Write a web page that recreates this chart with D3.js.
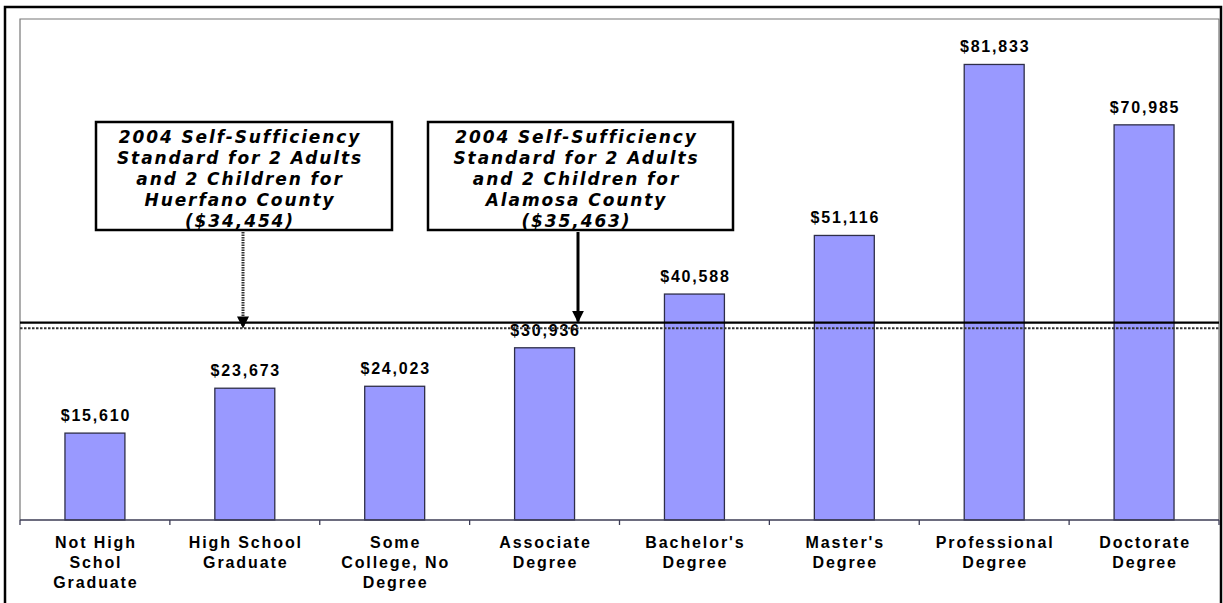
<!DOCTYPE html>
<html>
<head>
<meta charset="utf-8">
<script src="https://cdn.jsdelivr.net/npm/d3@7"></script>
<style>
  body { margin: 0; background: #fff; }
  svg { display: block; }
</style>
</head>
<body>
<div id="chart"></div>
<script>
// data
var categories = [
    'Not High\nSchol\nGraduate',
    'High School\nGraduate',
    'Some\nCollege, No\nDegree',
    'Associate\nDegree',
    "Bachelor's\nDegree",
    "Master's\nDegree",
    'Professional\nDegree',
    'Doctorate\nDegree'
];
var earnings = [15610, 23673, 24023, 30936, 40588, 51116, 81833, 70985];

var standardCounties = ['Huerfano', 'Alamosa'];
var standardValues = [34454, 35463];
var yDomain = [0, 90000];

(function() {
    'use strict';

    var width = 1223, height = 603;
    var left = 20, right = 1219, top = 19, bottom = 520;
    var money = d3.format('$,');

    var svg = d3.select('#chart').append('svg')
        .attr('width', width)
        .attr('height', height);

    var x = d3.scaleBand().domain(categories).range([left, right]).padding(0);
    var y = d3.scaleLinear().domain(yDomain).range([bottom, top]);

    // outer frame
    svg.append('rect')
        .attr('x', 5).attr('y', 7)
        .attr('width', 1216).attr('height', 620)
        .attr('fill', 'none')
        .attr('stroke', '#000')
        .attr('stroke-width', 2.5);

    // plot area border
    svg.append('path')
        .attr('d', 'M' + left + ',' + bottom + 'V' + top + 'H' + right + 'V' + bottom)
        .attr('fill', 'none')
        .attr('stroke', '#777')
        .attr('stroke-width', 1.2);

    // bars
    var barW = x.bandwidth() * 0.4;
    svg.selectAll('rect.bar')
        .data(earnings)
        .enter().append('rect')
        .attr('class', 'bar')
        .attr('x', function(d, i) { return x(categories[i]) + (x.bandwidth() - barW) / 2; })
        .attr('y', function(d) { return y(d); })
        .attr('width', barW)
        .attr('height', function(d) { return y(0) - y(d); })
        .attr('fill', '#9999ff')
        .attr('stroke', '#2e2e48')
        .attr('stroke-width', 1.3);

    // value labels
    svg.selectAll('text.val')
        .data(earnings)
        .enter().append('text')
        .attr('class', 'val')
        .attr('x', function(d, i) { return x(categories[i]) + x.bandwidth() / 2 + 1; })
        .attr('y', function(d) { return y(d) - 12; })
        .attr('text-anchor', 'middle')
        .style('font', 'bold 16px "Liberation Sans", Arial, sans-serif')
        .style('letter-spacing', '1.8px')
        .text(function(d) { return money(d); });

    // standard lines: solid for Alamosa, dotted for Huerfano
    svg.selectAll('line.std')
        .data(standardValues)
        .enter().append('line')
        .attr('class', 'std')
        .attr('x1', left).attr('x2', right)
        .attr('y1', function(d) { return y(d); })
        .attr('y2', function(d) { return y(d); })
        .attr('stroke', function(d, i) { return i === 0 ? '#333' : '#000'; })
        .attr('stroke-width', function(d, i) { return i === 0 ? 2 : 2.2; })
        .attr('stroke-dasharray', function(d, i) { return i === 0 ? '2.5,1.5' : null; });

    // x axis
    var axisG = svg.append('g')
        .attr('transform', 'translate(0,' + bottom + ')');
    axisG.append('line')
        .attr('x1', left).attr('x2', right)
        .attr('stroke', '#3c3c55').attr('stroke-width', 1.5);
    var edges = categories.map(function(c) { return x(c); }).concat([right]);
    axisG.selectAll('line.tick')
        .data(edges)
        .enter().append('line')
        .attr('class', 'tick')
        .attr('x1', function(d) { return d; })
        .attr('x2', function(d) { return d; })
        .attr('y1', 0).attr('y2', 5)
        .attr('stroke', '#3c3c55').attr('stroke-width', 1.3);

    axisG.selectAll('text.cat')
        .data(categories)
        .enter().append('text')
        .attr('class', 'cat')
        .attr('text-anchor', 'middle')
        .style('font', 'bold 16px "Liberation Sans", Arial, sans-serif')
        .style('letter-spacing', '1.9px')
        .each(function(d) {
            var t = d3.select(this);
            d.split('\n').forEach(function(line, k) {
                t.append('tspan')
                    .attr('x', x(d) + x.bandwidth() / 2 + 1)
                    .attr('y', 28 + k * 20)
                    .text(line);
            });
        });

    // annotation boxes with arrows
    var defs = svg.append('defs');
    defs.append('marker')
        .attr('id', 'head')
        .attr('viewBox', '0 0 10 10')
        .attr('refX', 9).attr('refY', 5)
        .attr('markerWidth', 4).attr('markerHeight', 4)
        .attr('markerUnits', 'strokeWidth')
        .attr('orient', 'auto')
        .append('path')
        .attr('d', 'M0,0L10,5L0,10z')
        .attr('fill', '#000');

    var boxes = [
        { x: 96, w: 296, arrowX: 243 },
        { x: 428, w: 305, arrowX: 578 }
    ];
    var boxTop = 122, boxBottom = 230;

    boxes.forEach(function(b, i) {
        var g = svg.append('g');
        defs.append('clipPath').attr('id', 'clip' + i)
            .append('rect')
            .attr('x', b.x).attr('y', boxTop)
            .attr('width', b.w).attr('height', boxBottom - boxTop);

        g.append('rect')
            .attr('x', b.x).attr('y', boxTop)
            .attr('width', b.w).attr('height', boxBottom - boxTop)
            .attr('fill', '#fff');

        var lines = [
            '2004 Self-Sufficiency',
            'Standard for 2 Adults',
            'and 2 Children for',
            standardCounties[i] + ' County',
            '(' + money(standardValues[i]) + ')'
        ];
        var txt = g.append('text')
            .attr('clip-path', 'url(#clip' + i + ')')
            .attr('text-anchor', 'middle')
            .style('font', 'italic bold 17px "DejaVu Sans", Verdana, sans-serif')
            .style('letter-spacing', '1.9px');
        lines.forEach(function(line, k) {
            txt.append('tspan')
                .attr('x', b.x + b.w / 2 - 4)
                .attr('y', 143 + k * 21)
                .text(line);
        });

        g.append('rect')
            .attr('x', b.x).attr('y', boxTop)
            .attr('width', b.w).attr('height', boxBottom - boxTop)
            .attr('fill', 'none')
            .attr('stroke', '#000')
            .attr('stroke-width', 2.5);

        g.append('line')
            .attr('x1', b.arrowX).attr('x2', b.arrowX)
            .attr('y1', boxBottom + 2)
            .attr('y2', y(standardValues[i]) - 1)
            .attr('stroke', i === 0 ? '#333' : '#000')
            .attr('stroke-width', 3)
            .attr('stroke-dasharray', i === 0 ? '1.5,1' : null)
            .attr('marker-end', 'url(#head)');
    });
})();
</script>
</body>
</html>
